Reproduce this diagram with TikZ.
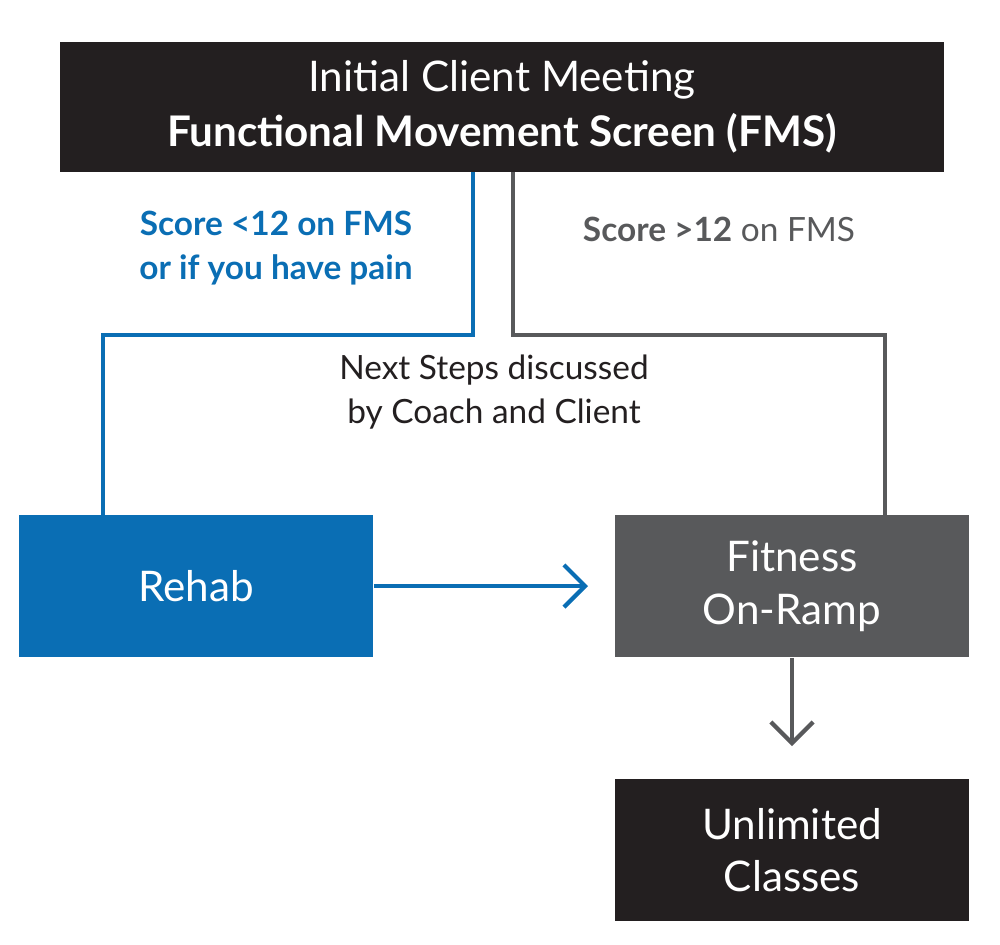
\documentclass[tikz,border=0pt]{standalone}
\usepackage{fontspec}
\setmainfont{Lato}
\usetikzlibrary{positioning,arrows.meta}
\definecolor{boxblack}{HTML}{231F20}
\definecolor{fmsblue}{HTML}{0A6EB4}
\definecolor{fmsgray}{HTML}{58595B}
\begin{document}
\begin{tikzpicture}[x=0.01cm,y=-0.01cm,
  box/.style={draw=none,minimum width=3.54cm,minimum height=1.42cm,text=white,align=center,font=\fontsize{12}{15}\selectfont},
  link/.style={line width=1.2pt},
  lbl/.style={align=center,font=\fontsize{9.5}{12.5}\selectfont}]
\useasboundingbox (0,0) rectangle (1000,944);
\node[fill=boxblack,minimum width=8.84cm,minimum height=1.3cm,text=white,align=center,
  font=\fontsize{12}{15.5}\selectfont] (fms) at (502,107)
  {Initial Client Meeting\\\textbf{Functional Movement Screen (FMS)}};
\node[box,fill=fmsblue] (rehab) at (196,586) {Rehab};
\node[box,fill=fmsgray] (ramp) at (792,586) {Fitness\\On-Ramp};
\node[box,fill=boxblack] (unl) at (792,850) {Unlimited\\Classes};
\coordinate (bl) at (473,172);
\coordinate (gl) at (513,172);
\draw[link,fmsblue] (bl) -- (473,335) -- (103,335) -- (103,515);
\draw[link,fmsgray] (gl) -- (513,335) -- (885,335) -- (885,515);
\draw[link,fmsblue,-{Straight Barb[length=6pt,width=12pt]}] (rehab) -- (588,586);
\draw[link,fmsgray,-{Straight Barb[length=6pt,width=12pt]}] (ramp) -- (792,746);
\node[lbl,text=fmsblue] (lo) at (276,248) {\textbf{Score <12 on FMS}\\\textbf{or if you have pain}};
\node[lbl,text=fmsgray] (hi) at (719,229) {\textbf{Score >12} on FMS};
\node[lbl,text=boxblack] (next) at (494,392) {Next Steps discussed\\by Coach and Client};
\end{tikzpicture}
\end{document}
